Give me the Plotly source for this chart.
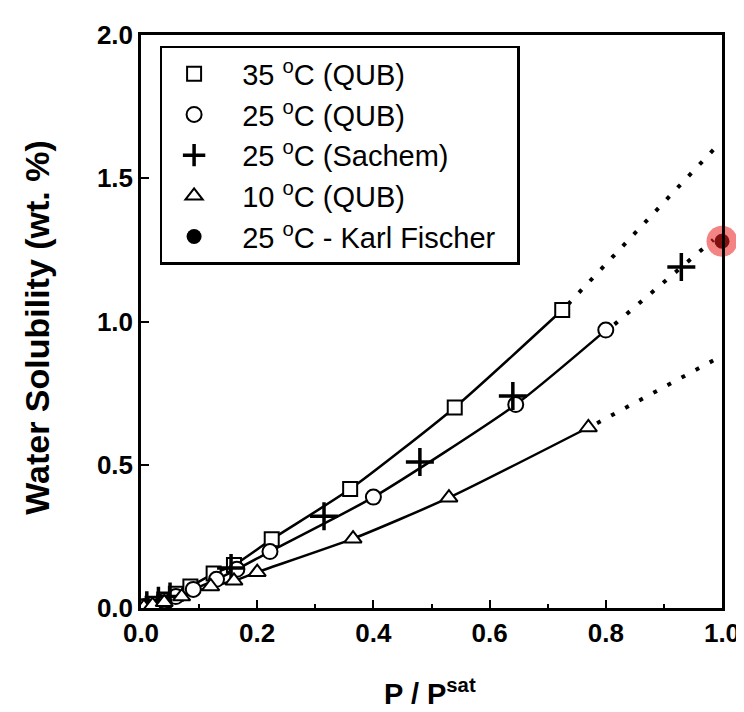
import plotly.graph_objects as go

# ---------------- data ----------------
x35 = [0.005, 0.02, 0.04, 0.06, 0.085, 0.125, 0.16, 0.225, 0.36, 0.54, 0.725]
y35 = [0.005, 0.015, 0.03, 0.05, 0.075, 0.12, 0.15, 0.24, 0.415, 0.70, 1.04]

x25 = [0.005, 0.02, 0.04, 0.06, 0.09, 0.13, 0.165, 0.222, 0.40, 0.645, 0.80]
y25 = [0.004, 0.012, 0.025, 0.04, 0.065, 0.10, 0.135, 0.197, 0.387, 0.71, 0.97]

xsac = [0.01, 0.03, 0.05, 0.155, 0.315, 0.48, 0.64, 0.93]
ysac = [0.01, 0.025, 0.04, 0.14, 0.32, 0.51, 0.74, 1.19]

x10 = [0.005, 0.02, 0.04, 0.07, 0.12, 0.16, 0.20, 0.365, 0.53, 0.77]
y10 = [0.003, 0.01, 0.02, 0.04, 0.075, 0.095, 0.125, 0.242, 0.385, 0.63]

xkf = [1.0]
ykf = [1.28]

# dotted extrapolations
ext35_x = [0.735, 0.99]
ext35_y = [1.06, 1.61]
ext25_x = [0.815, 0.985]
ext25_y = [0.99, 1.285]
ext10_x = [0.785, 0.995]
ext10_y = [0.645, 0.875]

legend_names = ["35 <sup>o</sup>C (QUB)", "25 <sup>o</sup>C (QUB)",
                "25 <sup>o</sup>C (Sachem)", "10 <sup>o</sup>C (QUB)",
                "25 <sup>o</sup>C - Karl Fischer"]

FONT = "Liberation Sans, Arial, Helvetica, sans-serif"
PAD = "\u00a0\u00a0"  # small invisible lead-in to widen the symbol/text gap

fig = go.Figure()

# solid fitted curves
for xs, ys in [(x35, y35), (x25, y25), (x10, y10)]:
    fig.add_trace(go.Scatter(x=xs, y=ys, mode="lines", showlegend=False,
                             line=dict(color="black", width=2.5, shape="spline", smoothing=0.6),
                             hoverinfo="skip"))
# dotted extrapolations
for xs, ys in [(ext35_x, ext35_y), (ext25_x, ext25_y), (ext10_x, ext10_y)]:
    fig.add_trace(go.Scatter(x=xs, y=ys, mode="lines", showlegend=False,
                             line=dict(color="black", width=4, dash="4px,12px"),
                             cliponaxis=False, hoverinfo="skip"))

mk = dict(color="white", line=dict(color="black", width=2))
fig.add_trace(go.Scatter(x=x35, y=y35, mode="markers", name=PAD + legend_names[0], legendgroup="a",
                         marker=dict(symbol="square", size=14, **mk)))
fig.add_trace(go.Scatter(x=x25, y=y25, mode="markers", name=PAD + legend_names[1], legendgroup="b",
                         marker=dict(symbol="circle", size=15, **mk)))
fig.add_trace(go.Scatter(x=xsac, y=ysac, mode="markers", name=PAD + legend_names[2], legendgroup="c",
                         marker=dict(symbol="cross-thin", size=20,
                                     line=dict(color="black", width=3.5))))
fig.add_trace(go.Scatter(x=x10, y=y10, mode="markers", name=PAD + legend_names[3], legendgroup="d",
                         marker=dict(symbol="triangle-up", size=15, **mk)))
fig.add_trace(go.Scatter(x=xkf, y=ykf, mode="markers", name=PAD + legend_names[4] + PAD,
                         legendgroup="e", cliponaxis=False,
                         marker=dict(symbol="circle", size=15, color="black")))
# red highlight overlay seen on the picture
fig.add_trace(go.Scatter(x=xkf, y=ykf, mode="markers", showlegend=False, cliponaxis=False,
                         marker=dict(symbol="circle", size=31, color="rgba(235,30,30,0.55)",
                                     line=dict(width=0)), hoverinfo="skip"))

axis_common = dict(showline=True, linecolor="black", linewidth=2.5, mirror=True,
                   ticks="inside", ticklen=8, tickwidth=2, tickcolor="black",
                   showgrid=False, zeroline=False,
                   tickfont=dict(family=FONT, size=26, color="black", weight="bold"))
fig.update_xaxes(range=[0, 1.0], tickvals=[0, 0.2, 0.4, 0.6, 0.8, 1.0],
                 ticktext=["0.0", "0.2", "0.4", "0.6", "0.8", "1.0"],
                 minor=dict(dtick=0.1, ticks="inside", ticklen=4, tickcolor="black"),
                 **axis_common)
fig.update_yaxes(range=[0, 2.0], tickvals=[0, 0.5, 1.0, 1.5, 2.0],
                 ticktext=["0.0", "0.5", "1.0", "1.5", "2.0"], **axis_common)

fig.add_annotation(text="Water Solubility (wt. %)", xref="paper", yref="paper",
                   x=-0.178, y=0.49, textangle=-90, showarrow=False,
                   xanchor="center", yanchor="middle",
                   font=dict(family=FONT, size=34, color="black", weight="bold"))
fig.add_annotation(text="P / P<sup>sat</sup>", xref="paper", yref="paper",
                   x=0.497, y=-0.146, showarrow=False, xanchor="center", yanchor="middle",
                   font=dict(family=FONT, size=29, color="black", weight="bold"))

fig.update_layout(
    width=744, height=712,
    margin=dict(l=133, r=24, t=21, b=112),
    plot_bgcolor="white", paper_bgcolor="white",
    legend=dict(x=0.032, y=0.981, xanchor="left", yanchor="top",
                bordercolor="black", borderwidth=2.5, bgcolor="white",
                font=dict(family=FONT, size=29, color="black"),
                tracegroupgap=0, itemwidth=54, traceorder="normal"),
    showlegend=True,
)

fig.write_html("out.html")
